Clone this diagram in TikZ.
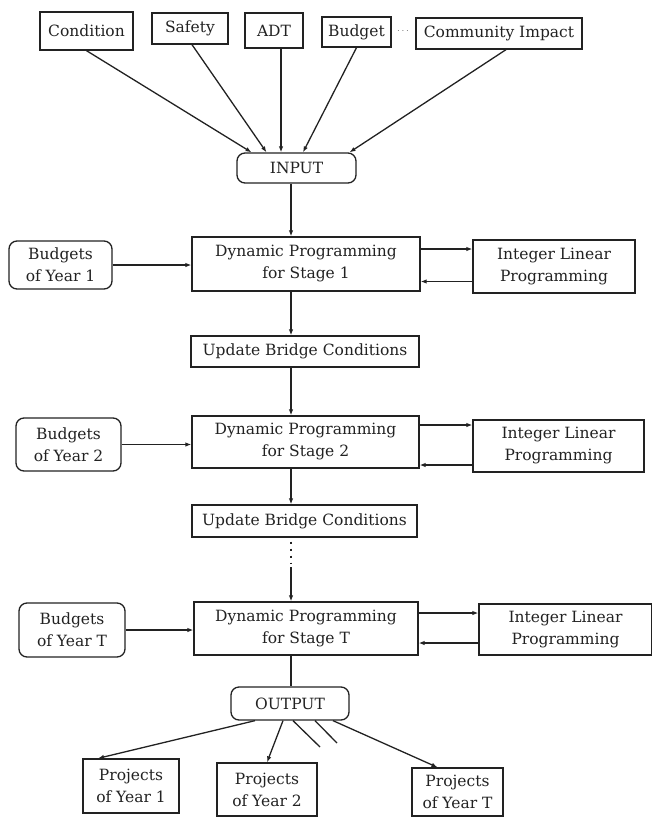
\documentclass[tikz,border=0pt]{standalone}
\usepackage{fontspec}
\setmainfont{DejaVu Serif}
\usetikzlibrary{arrows.meta,positioning,calc}
\definecolor{fcline}{HTML}{222222}

\begin{document}
\begin{tikzpicture}[
  x=1pt, y=-1pt,
  every node/.style={font=\fontsize{15.5}{22}\selectfont, inner sep=0pt, align=center, text=fcline},
  box/.style={draw=fcline, line width=1.3pt, fill=white},
  rbox/.style={box, rounded corners=8pt},
  arr/.style={-{Latex[length=6pt,width=4.5pt]}, line width=1.3pt, color=fcline},
  lnk/.style={line width=1.3pt, color=fcline}
]
\useasboundingbox (0,0) rectangle (651,817);
\coordinate (trunk) at (291,0);

% ── Criteria ──────────────────────────────────────────────────
\node[box, minimum width=93pt, minimum height=38pt] (cond) at (86.5,31) {Condition};
\node[box, minimum width=76pt, minimum height=31pt] (safety) at (190,28.5) {Safety};
\node[box, minimum width=58pt, minimum height=35pt] (adt) at (274,30.5) {ADT};
\node[box, minimum width=69pt, minimum height=30pt] (budget) at (356.5,32) {Budget};
\node[font=\fontsize{10}{10}\selectfont, text=fcline!70] (more) at (403,31) {$\cdots$};
\node[box, minimum width=166pt, minimum height=31pt] (impact) at (499,33.5) {Community Impact};

\node[rbox, minimum width=119pt, minimum height=30pt] (input) at (296.5,168) {INPUT};

% ── Stage 1 ───────────────────────────────────────────────────
\node[box, minimum width=228pt, minimum height=54pt] (dp1) at (306,264) {Dynamic Programming\\for Stage 1};
\node[box, minimum width=162pt, minimum height=53pt] (ilp1) at (554,266.5) {Integer Linear\\Programming};
\node[rbox, minimum width=103pt, minimum height=48pt] (bud1) at (60.5,265) {Budgets\\of Year 1};
\node[box, minimum width=228pt, minimum height=31pt] (upd1) at (305,351.5) {Update Bridge Conditions};

% ── Stage 2 ───────────────────────────────────────────────────
\node[box, minimum width=227pt, minimum height=52pt] (dp2) at (305.5,442) {Dynamic Programming\\for Stage 2};
\node[box, minimum width=171pt, minimum height=52pt] (ilp2) at (558.5,446) {Integer Linear\\Programming};
\node[rbox, minimum width=105pt, minimum height=53pt] (bud2) at (68.5,444.5) {Budgets\\of Year 2};
\node[box, minimum width=225pt, minimum height=32pt] (upd2) at (304.5,521) {Update Bridge Conditions};
\coordinate (skip) at (291,563);

% ── Stage T ───────────────────────────────────────────────────
\node[box, minimum width=224pt, minimum height=53pt] (dpT) at (306,628.5) {Dynamic Programming\\for Stage T};
\node[box, minimum width=173pt, minimum height=51pt] (ilpT) at (565.5,629.5) {Integer Linear\\Programming};
\node[rbox, minimum width=106pt, minimum height=54pt] (budT) at (72,630) {Budgets\\of Year T};

% ── Output ────────────────────────────────────────────────────
\node[rbox, minimum width=118pt, minimum height=33pt] (output) at (290,703.5) {OUTPUT};
\node[box, minimum width=96pt, minimum height=54pt] (prj1) at (131,786) {Projects\\of Year 1};
\node[box, minimum width=100pt, minimum height=53pt] (prj2) at (267,789.5) {Projects\\of Year 2};
\node[box, minimum width=91pt, minimum height=48pt] (prjT) at (457.5,792) {Projects\\of Year T};
\coordinate (cut1) at (320,747);
\coordinate (cut2) at (337,743);

% ── Arrows ────────────────────────────────────────────────────
\draw[arr] (cond.south) -- ([xshift=-45pt]input.north);
\draw[arr] ([xshift=2pt]safety.south) -- ([xshift=-30pt]input.north);
\draw[arr] ([xshift=7pt]adt.south) -- ([xshift=-15.5pt]input.north);
\draw[arr] (budget.south) -- ([xshift=6.5pt]input.north);
\draw[arr] ([xshift=7pt]impact.south) -- ([xshift=53pt]input.north);

\draw[arr] (input.south -| trunk) -- (dp1.north -| trunk);
\draw[arr] (bud1.east) -- (bud1.east -| dp1.west);
\draw[arr] ([yshift=15pt]dp1.east) -- ([yshift=15pt]dp1.east -| ilp1.west);
\draw[arr] ([yshift=-15pt]ilp1.west) -- ([yshift=-15pt]ilp1.west -| dp1.east);
\draw[arr] (dp1.south -| trunk) -- (upd1.north -| trunk);
\draw[arr] (upd1.south -| trunk) -- (dp2.north -| trunk);

\draw[arr] (bud2.east) -- (bud2.east -| dp2.west);
\draw[arr] ([yshift=17pt]dp2.east) -- ([yshift=17pt]dp2.east -| ilp2.west);
\draw[arr] ([yshift=-19pt]ilp2.west) -- ([yshift=-19pt]ilp2.west -| dp2.east);
\draw[arr] (dp2.south -| trunk) -- (upd2.north -| trunk);
\draw[lnk, line width=2.2pt, dash pattern=on 2pt off 5pt] ([yshift=-4pt]upd2.south -| trunk) -- (skip);
\draw[arr] ([yshift=-4pt]skip) -- (dpT.north -| trunk);

\draw[arr] (budT.east) -- (budT.east -| dpT.west);
\draw[arr] ([yshift=15.5pt]dpT.east) -- ([yshift=15.5pt]dpT.east -| ilpT.west);
\draw[arr] ([yshift=-13.5pt]ilpT.west) -- ([yshift=-13.5pt]ilpT.west -| dpT.east);
\draw[lnk] (dpT.south -| trunk) -- (output.north -| trunk);

\draw[arr] ([xshift=-35pt]output.south) -- ([xshift=-33pt]prj1.north);
\draw[arr] ([xshift=-7pt]output.south) -- (prj2.north);
\draw[lnk] ([xshift=3pt]output.south) -- (cut1);
\draw[lnk] ([xshift=25pt]output.south) -- (cut2);
\draw[arr] ([xshift=43pt]output.south) -- ([xshift=-20pt]prjT.north);
\end{tikzpicture}
\end{document}
